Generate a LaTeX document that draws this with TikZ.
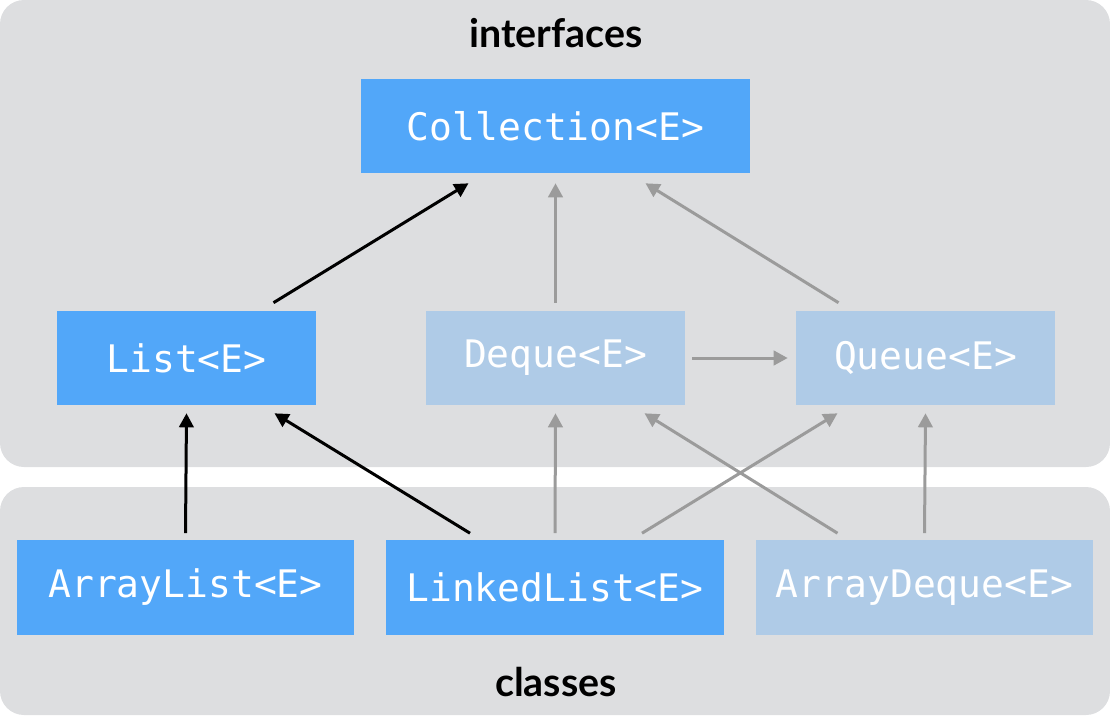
\documentclass[tikz,border=0pt]{standalone}
\usepackage{fontspec}
\setmainfont{Lato}
\setmonofont{DejaVu Sans Mono}
\usetikzlibrary{arrows.meta,calc}
\definecolor{panelgray}{HTML}{DDDEE0}
\definecolor{ifaceblue}{HTML}{52A7F9}
\definecolor{paleblue}{HTML}{AFCBE7}
\definecolor{linkgray}{HTML}{9B9B9B}
\begin{document}
\begin{tikzpicture}[x=0.025cm,y=-0.025cm,
    panel/.style={fill=panelgray,rounded corners=0.6cm},
    heading/.style={font=\bfseries\fontsize{28}{32}\selectfont},
    typebox/.style={fill=ifaceblue,text=white,minimum height=2.35cm,inner sep=0pt,
        font=\ttfamily\fontsize{27}{32}\selectfont},
    palebox/.style={typebox,fill=paleblue},
    isa/.style={line width=0.075cm,-{Triangle[length=0.35cm,width=0.36cm]}},
    impl/.style={isa,draw=linkgray}]
    \useasboundingbox (0,0) rectangle (1110,717);
    % Background panels
    \fill[panel] (0,0) rectangle (1110,467);
    \fill[panel] (0,487) rectangle (1110,715);
    \node[heading] (ifacelabel) at (556,33) {interfaces};
    \node[heading] (classlabel) at (556,682) {classes};
    % Interfaces
    \node[typebox,minimum width=9.725cm] (coll) at (555.5,126) {Collection<E>};
    \node[typebox,minimum width=6.475cm] (list) at (186.5,358) {List<E>};
    \node[palebox,minimum width=6.475cm] (deque) at (555.5,358) {Deque<E>};
    \node[palebox,minimum width=6.475cm] (queue) at (925.5,358) {Queue<E>};
    % Classes
    \node[typebox,minimum width=8.425cm] (alist) at (185.5,587.5) {ArrayList<E>};
    \node[typebox,minimum width=8.425cm] (llist) at (555,587.5) {LinkedList<E>};
    \node[palebox,minimum width=8.425cm] (adeque) at (924.5,587.5) {ArrayDeque<E>};
    % Black arrows (List branch)
    \draw[isa] ($(list.north)+(87,-8)$) -- ($(coll.south)+(-87,10)$);
    \draw[isa] ($(alist.north)+(0,-7)$) -- ($(list.south)+(0,8)$);
    \draw[isa] ($(llist.north)+(-85,-7)$) -- ($(list.south)+(88,8)$);
    % Gray arrows (Deque/Queue branch)
    \draw[impl] ($(deque.north)+(0,-8)$) -- ($(coll.south)+(0,10)$);
    \draw[impl] ($(queue.north)+(-87,-8)$) -- ($(coll.south)+(90,10)$);
    \draw[impl] ($(deque.east)+(7,0)$) -- ($(queue.west)+(-8,0)$);
    \draw[impl] ($(llist.north)+(0,-7)$) -- ($(deque.south)+(0,8)$);
    \draw[impl] ($(llist.north)+(87,-7)$) -- ($(queue.south)+(-88,8)$);
    \draw[impl] ($(adeque.north)+(-87,-7)$) -- ($(deque.south)+(89,8)$);
    \draw[impl] ($(adeque.north)+(0,-7)$) -- ($(queue.south)+(0,8)$);
\end{tikzpicture}
\end{document}
